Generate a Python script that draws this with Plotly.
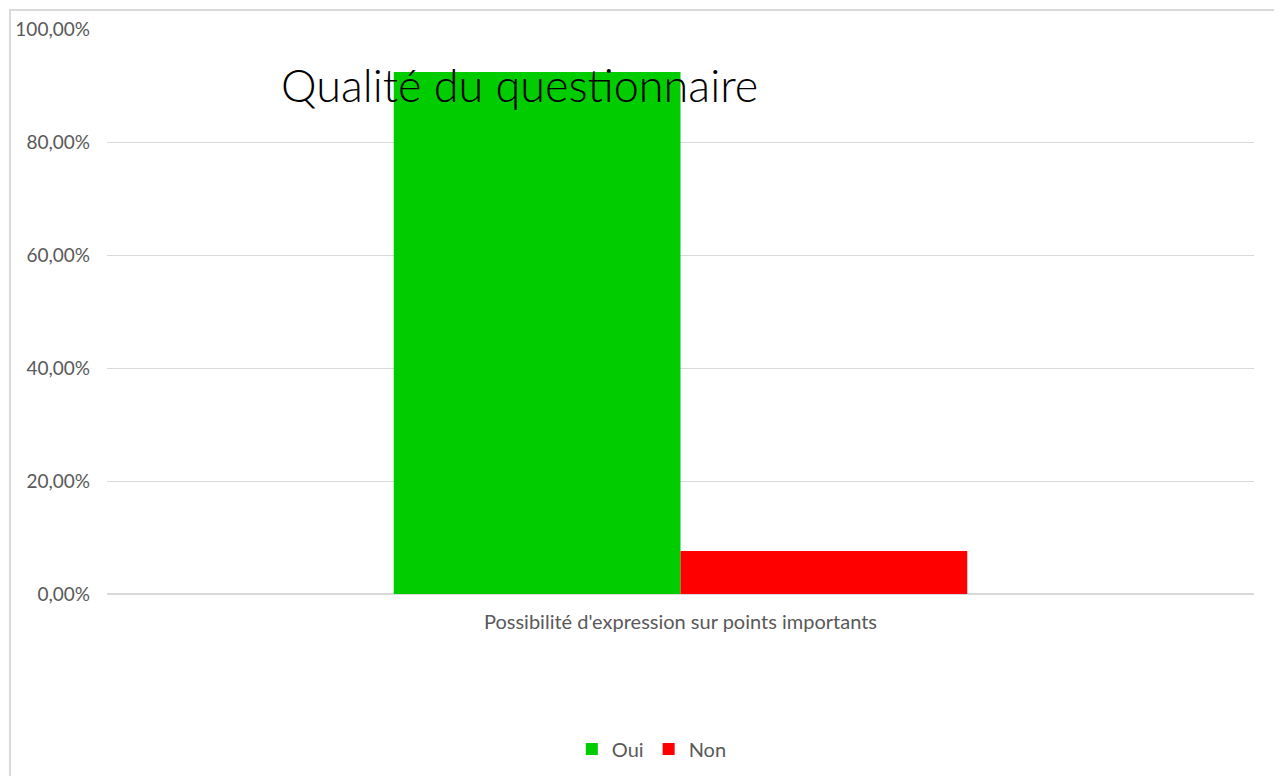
import plotly.graph_objects as go

categories = ["Possibilité d'expression sur points importants"]
oui = [0.924]
non = [0.076]

fig = go.Figure()
fig.add_trace(go.Bar(x=categories, y=oui, name="Oui", marker=dict(color="#00CC00", line=dict(width=0))))
fig.add_trace(go.Bar(x=categories, y=non, name="Non", marker=dict(color="#FF0000", line=dict(width=0))))

# page body has an 8px margin, so the figure is a bit smaller than the window
fig.update_layout(
    width=1274, height=768,
    margin=dict(l=99, r=28, t=21, b=182, autoexpand=False),
    paper_bgcolor="white", plot_bgcolor="white",
    separators=", ",
    barmode="group", bargap=0.5, bargroupgap=0,
    font=dict(family="Lato", color="#595959", size=19),
    showlegend=True,
    legend=dict(orientation="h", x=0.475, xanchor="center", yref="container", y=0.035,
                yanchor="middle", font=dict(size=20, color="#595959"), itemwidth=30,
                traceorder="normal"),
    xaxis=dict(showgrid=False, showline=False, ticks="", ticklabelstandoff=14, automargin=False,
               tickfont=dict(size=20, color="#595959")),
    yaxis=dict(range=[0, 1], dtick=0.2, tickformat=".2%", showgrid=True, gridcolor="#d9d9d9",
               zeroline=True, zerolinecolor="#d9d9d9", showline=False, ticks="", automargin=False,
               ticklabelstandoff=16, tickfont=dict(size=19, color="#595959")),
    annotations=[dict(text="Qualité du questionnaire", xref="paper", yref="paper",
                      x=0.36, y=0.9, xanchor="center", yanchor="middle", showarrow=False,
                      font=dict(family="Lato", size=45, color="#000000", weight=300))],
    shapes=[dict(type="rect", xref="paper", yref="paper", x0=-0.0846, y0=-0.5, x1=1.2, y1=1.0336,
                 line=dict(color="#d9d9d9", width=2), layer="below")],
)

fig.write_html("out.html")
